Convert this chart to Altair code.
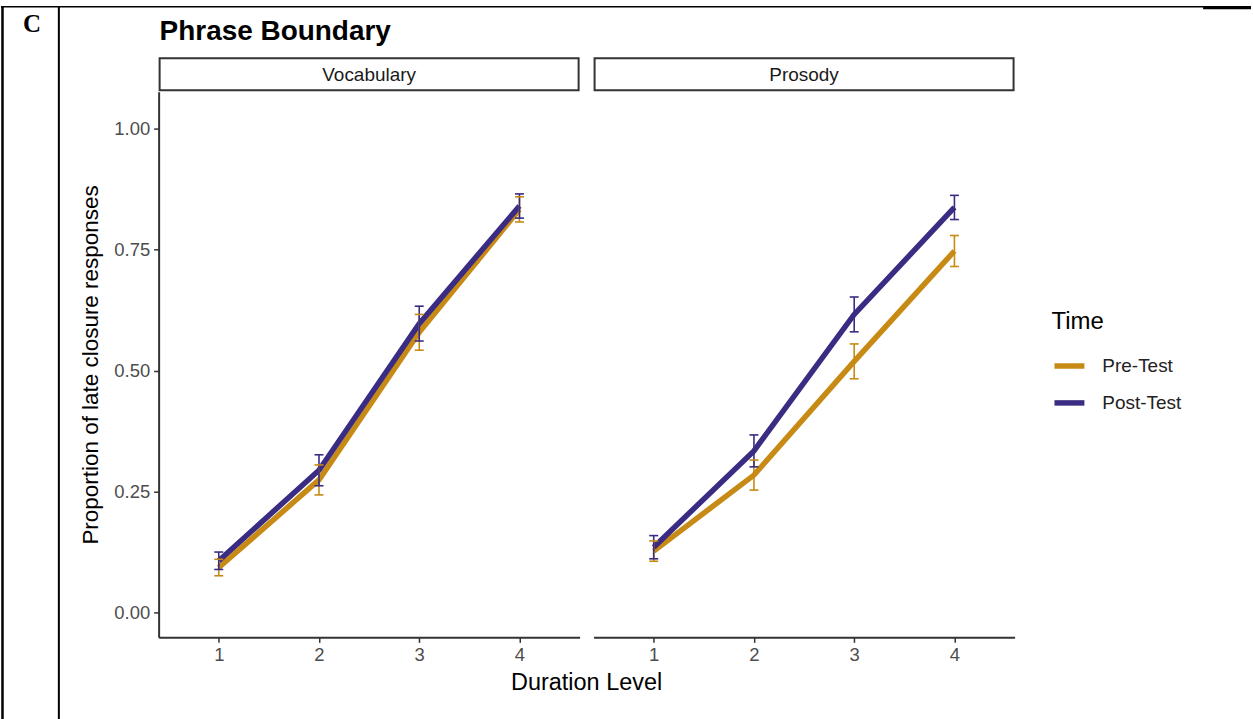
import altair as alt
import pandas as pd

# ---- data ----
panels = ["Vocabulary", "Prosody"]
times = ["Pre-Test", "Post-Test"]
levels = [1, 2, 3, 4]

vocab_pre_mean = [0.093, 0.274, 0.579, 0.833]
vocab_pre_se = [0.017, 0.031, 0.037, 0.026]
vocab_post_mean = [0.107, 0.294, 0.597, 0.840]
vocab_post_se = [0.018, 0.032, 0.036, 0.025]
prosody_pre_mean = [0.127, 0.284, 0.519, 0.747]
prosody_pre_se = [0.021, 0.031, 0.036, 0.032]
prosody_post_mean = [0.135, 0.334, 0.616, 0.837]
prosody_post_se = [0.024, 0.033, 0.036, 0.025]

y_ticks = [0.0, 0.25, 0.5, 0.75, 1.0]
y_domain = [-0.05125, 1.07625]
x_domain = [0.4, 4.6]

colors = ["#C78A14", "#3A2C82"]

series = {
    ("Vocabulary", "Pre-Test"): (vocab_pre_mean, vocab_pre_se),
    ("Vocabulary", "Post-Test"): (vocab_post_mean, vocab_post_se),
    ("Prosody", "Pre-Test"): (prosody_pre_mean, prosody_pre_se),
    ("Prosody", "Post-Test"): (prosody_post_mean, prosody_post_se),
}
rows = []
for p in panels:
    for t in times:
        m, s = series[(p, t)]
        for lv, mv, sv in zip(levels, m, s):
            rows.append({"Panel": p, "Time": t, "Level": lv, "Mean": mv,
                         "Lo": mv - sv, "Hi": mv + sv})
df = pd.DataFrame(rows)

FONT = "Liberation Sans"
W, H = 422, 547

xenc = alt.X("Level:Q", scale=alt.Scale(domain=x_domain, nice=False, zero=False),
             axis=alt.Axis(values=levels, format="d", title=None, grid=False,
                           labelFontSize=18.5, labelColor="#4D4D4D", labelFont=FONT,
                           tickColor="#333333", tickWidth=1.5, tickSize=5,
                           domainColor="#333333", domainWidth=2, labelPadding=3))
yenc = alt.Y("Mean:Q", scale=alt.Scale(domain=y_domain, nice=False, zero=False),
             axis=alt.Axis(values=y_ticks, format=".2f",
                           title="Proportion of late closure responses", grid=False,
                           labelFontSize=18.5, labelColor="#4D4D4D", labelFont=FONT,
                           tickColor="#333333", tickWidth=1.5, tickSize=5,
                           domainColor="#333333", domainWidth=2, labelPadding=4,
                           titleFontSize=22.5, titleFont=FONT, titleFontWeight="normal",
                           titleColor="black", titlePadding=11))
cscale = alt.Scale(domain=times, range=colors)

lines = alt.Chart().mark_line(strokeWidth=5.5).encode(
    x=xenc, y=yenc,
    color=alt.Color("Time:N", scale=cscale, sort=times,
                    legend=alt.Legend(title="Time", symbolType="stroke",
                                      symbolStrokeWidth=5.5, symbolSize=900,
                                      symbolOpacity=1,
                                      labelFontSize=19, labelFont=FONT, labelColor="#222222",
                                      titleFontSize=24, titleFont=FONT,
                                      titleFontWeight="normal", titleColor="black",
                                      titlePadding=14, rowPadding=8, labelOffset=15,
                                      orient="none", legendX=895, legendY=219,
                                      padding=0)),
)
bars = alt.Chart().mark_rule(strokeWidth=1.6, opacity=1).encode(
    x="Level:Q", y="Lo:Q", y2="Hi:Q",
    color=alt.Color("Time:N", scale=cscale, sort=times),
)
cap_lo = alt.Chart().mark_tick(orient="horizontal", size=9, thickness=1.6, opacity=1).encode(
    x="Level:Q", y="Lo:Q", color=alt.Color("Time:N", scale=cscale, sort=times))
cap_hi = alt.Chart().mark_tick(orient="horizontal", size=9, thickness=1.6, opacity=1).encode(
    x="Level:Q", y="Hi:Q", color=alt.Color("Time:N", scale=cscale, sort=times))

one_per_panel = "datum.Level === 1 && datum.Time === 'Pre-Test'"
first_only = one_per_panel + " && datum.Panel === 'Vocabulary'"

strip_box = alt.Chart().transform_filter(one_per_panel).mark_rect(
    fillOpacity=0, stroke="#333333", strokeWidth=2).encode(
    x=alt.value(1), x2=alt.value(W - 1), y=alt.value(-33.5), y2=alt.value(-1.5))
strip_text = alt.Chart().transform_filter(one_per_panel).mark_text(
    fontSize=19, font=FONT, color="#1A1A1A", baseline="middle", align="center").encode(
    text="Panel:N", x=alt.value(W / 2), y=alt.value(-17))

title = alt.Chart().transform_filter(first_only).mark_text(
    fontSize=28, font=FONT, fontWeight="bold", color="black", align="left",
    baseline="alphabetic").encode(
    text=alt.value("Phrase Boundary"), x=alt.value(1), y=alt.value(-52))
xtitle = alt.Chart().transform_filter(first_only).mark_text(
    fontSize=23.5, font=FONT, color="black", align="center",
    baseline="middle").encode(
    text=alt.value("Duration Level"), x=alt.value(429), y=alt.value(593))
letter = alt.Chart().transform_filter(first_only).mark_text(
    fontSize=25, font="Liberation Serif", fontWeight="bold", color="black",
    align="center", baseline="alphabetic").encode(
    text=alt.value("C"), x=alt.value(-127), y=alt.value(-59.5))
top_line = alt.Chart().transform_filter(first_only).mark_rule(
    color="black", strokeWidth=1.5).encode(
    x=alt.value(-158), x2=alt.value(1095), y=alt.value(-85))
top_line_r = alt.Chart().transform_filter(first_only).mark_rule(
    color="black", strokeWidth=3).encode(
    x=alt.value(1047), x2=alt.value(1095), y=alt.value(-84))
left_line = alt.Chart().transform_filter(first_only).mark_rule(
    color="black", strokeWidth=2.5).encode(
    x=alt.value(-156.5), y=alt.value(-85), y2=alt.value(640))
col_line = alt.Chart().transform_filter(first_only).mark_rule(
    color="black", strokeWidth=2).encode(
    x=alt.value(-100), y=alt.value(-85), y2=alt.value(640))

layered = alt.layer(
    top_line, top_line_r, left_line, col_line, letter, title, xtitle,
    strip_box, strip_text, lines, bars, cap_lo, cap_hi, data=df,
).properties(width=W, height=H)

chart = layered.facet(
    column=alt.Column("Panel:N", sort=panels,
                      header=alt.Header(labels=False, title=None)),
    spacing=14,
    bounds="flush",
).properties(
    padding={"left": 0, "top": 4, "right": 0, "bottom": 0},
).configure_view(
    strokeWidth=0, stroke="transparent"
).configure(
    background="white",
    style={"cell": {"stroke": "transparent", "strokeWidth": 0}},
)

chart.save("out.html", embed_options={"renderer": "svg", "actions": False})
